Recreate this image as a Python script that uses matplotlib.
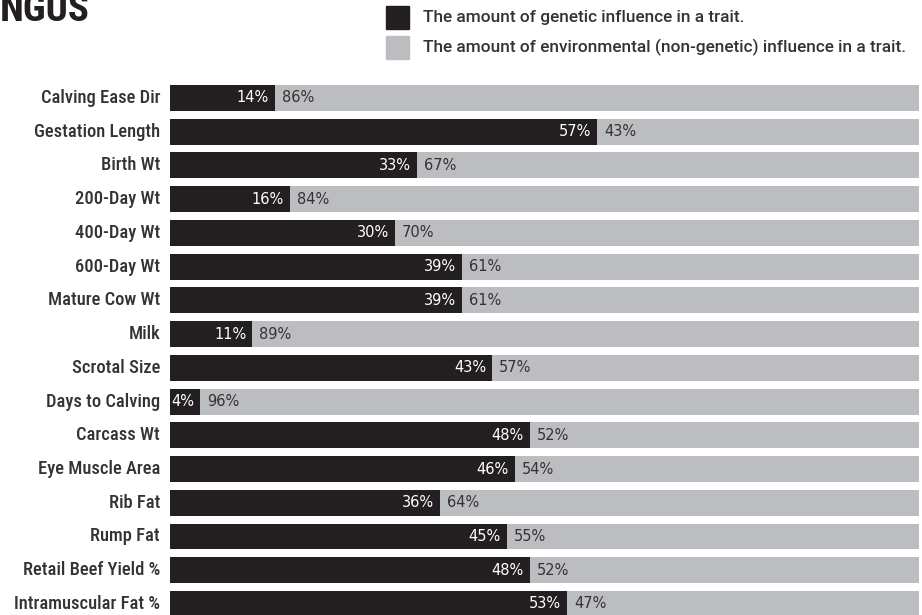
import os
import matplotlib
matplotlib.use('Agg')
import matplotlib.pyplot as plt
from matplotlib import font_manager as fm

#==================================
#          data
#==================================
traits = ['Calving Ease Dir', 'Gestation Length', 'Birth Wt', '200-Day Wt',
          '400-Day Wt', '600-Day Wt', 'Mature Cow Wt', 'Milk', 'Scrotal Size',
          'Days to Calving', 'Carcass Wt', 'Eye Muscle Area', 'Rib Fat',
          'Rump Fat', 'Retail Beef Yield %', 'Intramuscular Fat %']
genetic = [14, 57, 33, 16, 30, 39, 39, 11, 43, 4, 48, 46, 36, 45, 48, 53]
environ = [86, 43, 67, 84, 70, 61, 61, 89, 57, 96, 52, 54, 64, 55, 52, 47]
legend_labels = ['The amount of genetic influence in a trait.',
                 'The amount of environmental (non-genetic) influence in a trait.']

#==================================
#          fonts
#==================================
def find_font(cands):
    files = {os.path.basename(f.fname): f.fname for f in fm.fontManager.ttflist}
    for c in cands:
        if c in files:
            return fm.FontProperties(fname=files[c])
    return None

fp_bold = find_font(['LiberationSansNarrow-Bold.ttf', 'RobotoCondensed-Bold.ttf',
                     'DejaVuSansCondensed-Bold.ttf'])
if fp_bold is None:
    fp_bold = fm.FontProperties(family='DejaVu Sans', weight='bold')
fp_lab = find_font(['RobotoCondensed-Medium.ttf', 'RobotoCondensed-SemiBold.ttf'])
if fp_lab is None:
    fp_lab = fp_bold
fp_reg = fm.FontProperties(family='DejaVu Sans')
fp_leg = find_font(['Roboto-Medium.ttf', 'Roboto-Bold.ttf'])
if fp_leg is None:
    fp_leg = fm.FontProperties(family='Roboto', weight='bold')

c_dark = '#231f20'
c_gray = '#bcbdc0'
c_text = '#333333'

W, H = 922, 615
fig = plt.figure(figsize=(W/100, H/100), dpi=100)

#==================================
#          bars
#==================================
x0, x1 = 170, 919
y_first, pitch = 98, 33.73
ax = fig.add_axes([x0/W, 0, (x1 - x0)/W, 1])
ax.set_xlim(0, 100)
ax.set_ylim((H - y_first)/pitch, -y_first/pitch)
ax.axis('off')

ppx = 100/(x1 - x0)  # data units per pixel
idx = range(len(traits))
ax.barh(idx, genetic, height=0.77, color=c_dark)
ax.barh(idx, environ, left=genetic, height=0.77, color=c_gray)

for i in idx:
    ax.text(-10*ppx, i, traits[i], ha='right', va='center', fontproperties=fp_lab,
            fontsize=13.3, color=c_text, clip_on=False)
    ax.text(genetic[i] - 6*ppx, i, '%d%%' % genetic[i], ha='right', va='center',
            fontproperties=fp_reg, fontsize=10.5, color='white')
    ax.text(genetic[i] + 7*ppx, i, '%d%%' % environ[i], ha='left', va='center',
            fontproperties=fp_reg, fontsize=10.5, color=c_text)

# title (clipped at top left)
fig.text(0, 1 - 21/H, 'NGUS', ha='left', va='baseline', fontproperties=fp_bold,
         fontsize=28, color=c_dark)

# legend
for k, (c, lab) in enumerate(zip([c_dark, c_gray], legend_labels)):
    top = 6 + 30*k
    fig.patches.append(plt.Rectangle((386/W, 1 - (top + 23)/H), 23/W, 23/H,
                                     transform=fig.transFigure, color=c))
    fig.text(423/W, 1 - (top + 11.5)/H, lab, ha='left', va='center',
             fontproperties=fp_leg, fontsize=12.4, color=c_text)

fig.savefig('out.png', dpi=100)
